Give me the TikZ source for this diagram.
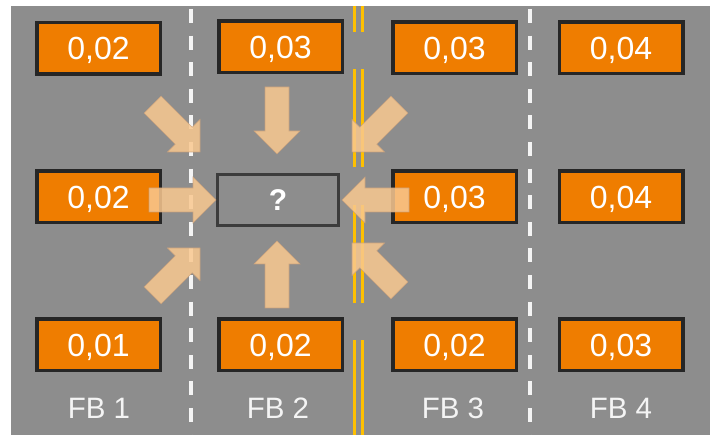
\documentclass[tikz,border=0pt]{standalone}
\usepackage{fontspec}
\setmainfont{Liberation Sans}
\definecolor{roadgray}{HTML}{8D8D8D}
\definecolor{boxorange}{HTML}{EF7D00}
\definecolor{boxline}{HTML}{262626}
\definecolor{qline}{HTML}{3C3C3C}
\definecolor{arrowfill}{HTML}{F9C890}
\definecolor{arrowedge}{HTML}{C9A07A}
\definecolor{markwhite}{HTML}{F4F4F4}
\definecolor{markyellow}{HTML}{FFC000}
\tikzset{
  valbox/.style={draw=boxline, line width=3.5pt, fill=boxorange,
    minimum width=123.5pt, minimum height=51.5pt, inner sep=0pt,
    text=white, font=\fontsize{32}{32}\selectfont,
    text height=22.9pt, text depth=0pt},
  qbox/.style={draw=qline, line width=3pt, minimum width=121pt,
    minimum height=51pt, inner sep=0pt, text=white,
    font=\fontsize{30}{30}\selectfont\bfseries},
  lanelabel/.style={text=markwhite, inner sep=0pt,
    font=\fontsize{29.5}{29.5}\selectfont, text height=21pt, text depth=0pt},
  whiteline/.style={draw=markwhite, line width=4pt,
    dash pattern=on 14pt off 12.6pt, dash phase=23.6pt},
  yellowline/.style={draw=markyellow, line width=3.5pt},
  blockarrow/.pic={
    \path[fill=arrowfill, draw=arrowedge, line width=0.6pt, opacity=0.85]
      (0,0) -- (-23,23) -- (-23,12) -- (-67,12) -- (-67,-12)
      -- (-23,-12) -- (-23,-23) -- cycle;
  }
}
\begin{document}
\begin{tikzpicture}[x=1pt,y=-1pt]
  \useasboundingbox (0,0) rectangle (710,435);
  % road surface
  \fill[roadgray] (11,6) rectangle (710,435);

  % lane markings
  \draw[whiteline] (191,6) -- (191,435);
  \draw[whiteline] (530,6) -- (530,435);
  \foreach \a/\b in {6/32,69/167,205/303,340/435} {
    \draw[yellowline] (354.7,\a) -- (354.7,\b);
    \draw[yellowline] (362.7,\a) -- (362.7,\b);
  }

  % values per lane
  \node[valbox] (a1) at (98.5,48.5) {0,02};
  \node[valbox] (a2) at (98.5,197) {0,02};
  \node[valbox] (a3) at (98.5,345) {0,01};
  \node[valbox] (b1) at (280.5,47) {0,03};
  \node[valbox] (b3) at (280.5,345) {0,02};
  \node[valbox] (c1) at (454.5,48) {0,03};
  \node[valbox] (c2) at (454.5,197) {0,03};
  \node[valbox] (c3) at (454.5,345) {0,02};
  \node[valbox] (d1) at (621,48) {0,04};
  \node[valbox] (d2) at (621,197) {0,04};
  \node[valbox] (d3) at (621,345) {0,03};

  % unknown cell
  \node[qbox] (q) at (278,200) {?};

  % lane names
  \node[lanelabel] (l1) at (99,408) {FB 1};
  \node[lanelabel] (l2) at (278,408) {FB 2};
  \node[lanelabel] (l3) at (453,408) {FB 3};
  \node[lanelabel] (l4) at (621,408) {FB 4};

  % neighbours pointing at the unknown cell
  \pic (arW)  [rotate=0]    at (216,200) {blockarrow};
  \pic (arE)  [rotate=180]  at (342,200) {blockarrow};
  \pic (arN)  [rotate=-90]  at (277,154) {blockarrow};
  \pic (arS)  [rotate=90]   at (277,241) {blockarrow};
  \pic (arNW) [rotate=-45]  at (200,152) {blockarrow};
  \pic (arNE) [rotate=-135] at (352,152) {blockarrow};
  \pic (arSW) [rotate=45]   at (200,248) {blockarrow};
  \pic (arSE) [rotate=135]  at (352,243) {blockarrow};
\end{tikzpicture}
\end{document}
